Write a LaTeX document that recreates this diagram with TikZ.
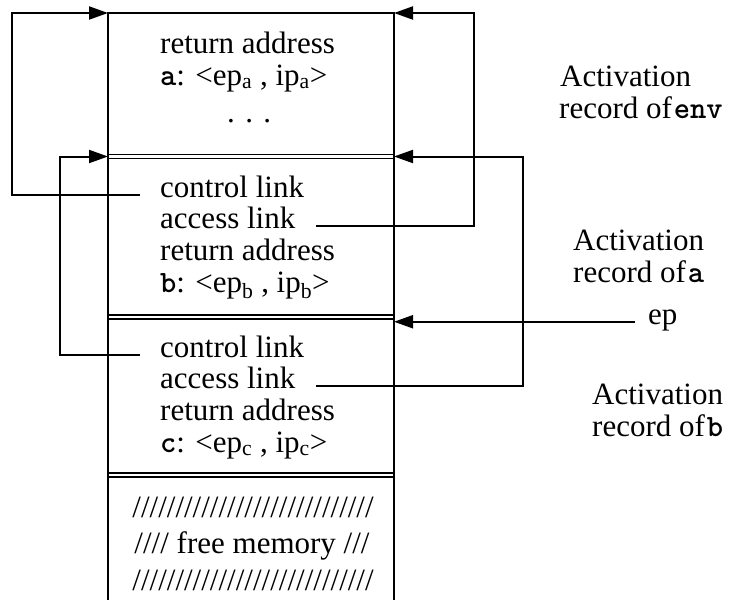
\documentclass[tikz,border=0pt]{standalone}
\usepackage{fontspec}
\setmainfont{Liberation Serif}
\usetikzlibrary{arrows.meta}

\newcommand\prog[1]{\texttt{\bfseries #1}}

\begin{document}
\begin{tikzpicture}[x=1pt, y=-1pt,
  txt/.style={anchor=base west, inner sep=0pt, text height=0.7em, text depth=0.25em,
    font=\fontsize{31}{32}\selectfont},
  link/.style={line width=2pt, -{Triangle[length=19pt,width=13pt]}},
  sep/.style={double, double distance=2.6pt, line width=1.4pt}]

\useasboundingbox (0,0) rectangle (733,600);

\coordinate (envNW) at (108,13);
\coordinate (envNE) at (394,13);
\coordinate (aNW) at (108,156.5);
\coordinate (aNE) at (394,156.5);
\coordinate (bNW) at (108,317);
\coordinate (bNE) at (394,317);
\coordinate (freeNW) at (108,475);
\coordinate (freeNE) at (394,475);

% the stack
\draw[sep] (aNW) -- (aNE);
\draw[sep] (bNW) -- (bNE);
\draw[sep] (freeNW) -- (freeNE);
\draw[line width=1.7pt] (108,600) -- (envNW) -- (envNE) -- (394,600);

% record of env
\node[txt] (retEnv) at (160,53) {return address};
\node[txt] (ptEnv) at (160,85) {\prog{a}: <ep\textsubscript{a} , ip\textsubscript{a}>};
\node[txt] (dotsEnv) at (227,122) {. . .};

% record of a
\node[txt] (ctrlA) at (160,197) {control link};
\node[txt] (accA) at (160,228) {access link};
\node[txt] (retA) at (160,260) {return address};
\node[txt] (ptA) at (160,292) {\prog{b}: <ep\textsubscript{b} , ip\textsubscript{b}>};

% record of b
\node[txt] (ctrlB) at (160,357) {control link};
\node[txt] (accB) at (160,388) {access link};
\node[txt] (retB) at (160,420) {return address};
\node[txt] (ptB) at (160,452) {\prog{c}: <ep\textsubscript{c} , ip\textsubscript{c}>};

% free memory
\node[txt, anchor=base] (free1) at (253,517) {////////////////////////////};
\node[txt, anchor=base] (free2) at (252,553) {//// free memory ///};
\node[txt, anchor=base] (free3) at (253,590) {////////////////////////////};

% labels
\node[txt] (recEnv1) at (560,86) {Activation};
\node[txt] (recEnv2) at (559,118) {record of\kern2pt\prog{env}};
\node[txt] (recA1) at (573,250) {Activation};
\node[txt] (recA2) at (573,282) {record of\kern2pt\prog{a}};
\node[txt] (ep) at (648,324) {ep};
\node[txt] (recB1) at (592,404) {Activation};
\node[txt] (recB2) at (592,436) {record of\kern2pt\prog{b}};

% links
\draw[link] ([xshift=-20pt]ctrlA.west) -- ++(-128,0) |- (envNW);
\draw[link] ([xshift=20pt]accA.east) -- ++(158,0) |- (envNE);
\draw[link] ([xshift=-20pt]ctrlB.west) -- ++(-80,0) |- (aNW);
\draw[link] ([xshift=20pt]accB.east) -- ++(207,0) |- (aNE);
\draw[link] ([xshift=-13pt]ep.west) -- (ep.west -| bNE);

\end{tikzpicture}
\end{document}
